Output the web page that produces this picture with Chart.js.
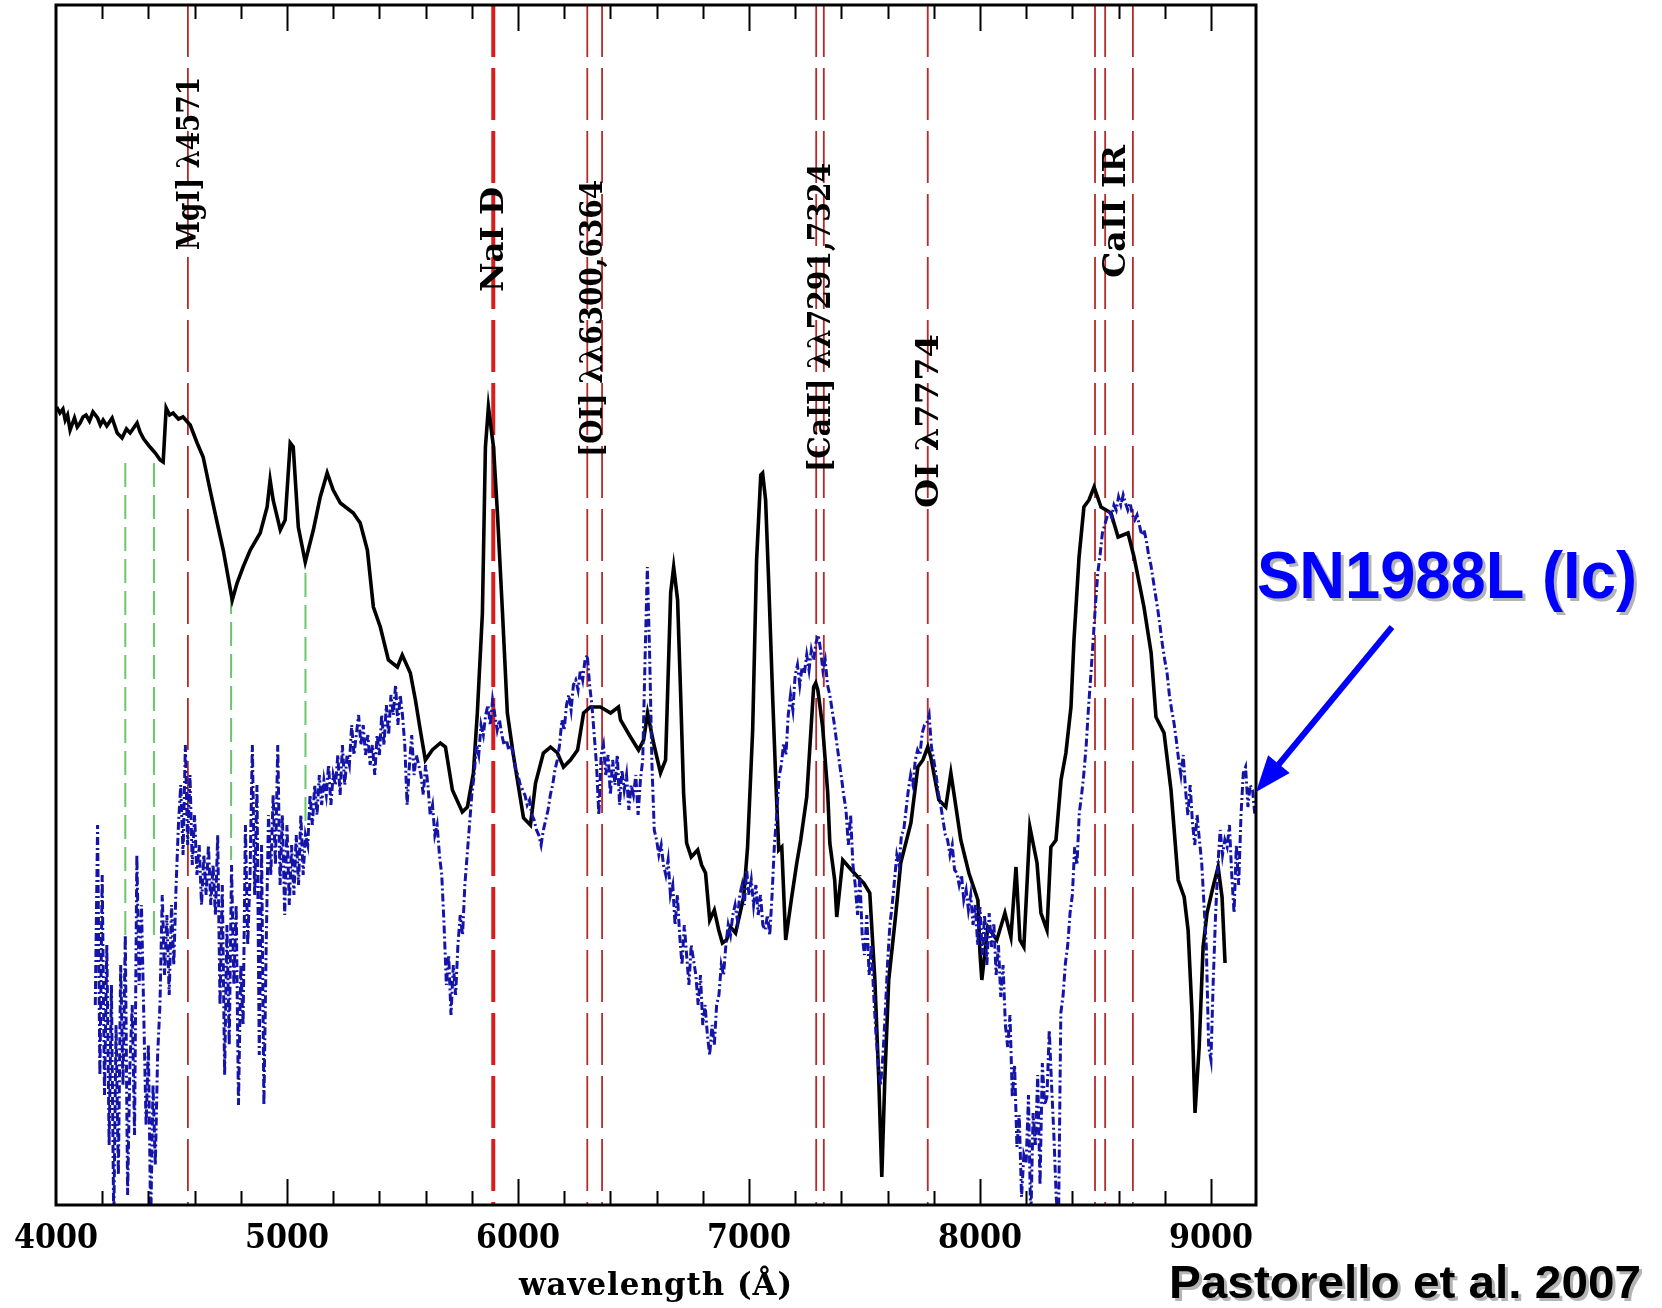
<!DOCTYPE html>
<html>
<head>
<meta charset="utf-8">
<title>SN 2006jc vs SN1988L</title>
<script src="https://cdn.jsdelivr.net/npm/chart.js@4.4.1/dist/chart.umd.min.js"></script>
<style>
  html, body { margin: 0; padding: 0; background: #fff; }
  #wrap { width: 1662px; height: 1308px; }
</style>
</head>
<body>
<div id="wrap"><canvas id="spec" width="1662" height="1308"></canvas></div>
<script>
// late-time spectrum (black, solid)
const blackWave = [4003, 4017, 4030, 4040, 4050, 4061, 4080, 4092, 4104, 4117, 4130, 4145, 4160, 4180, 4192, 4204, 4220, 4243, 4265, 4286,
  4305, 4321, 4351, 4364, 4380, 4407, 4430, 4451, 4464, 4477, 4492, 4507, 4530, 4550, 4581, 4611, 4637, 4667, 4698, 4724,
  4763, 4784, 4810, 4841, 4884, 4914, 4927, 4940, 4971, 4992, 5014, 5027, 5049, 5079, 5114, 5144, 5174, 5200, 5231, 5287,
  5317, 5348, 5374, 5404, 5439, 5478, 5499, 5534, 5556, 5577, 5599, 5629, 5664, 5686, 5716, 5759, 5781, 5807, 5824, 5846,
  5859, 5872, 5894, 5911, 5933, 5954, 5980, 6024, 6054, 6076, 6110, 6141, 6171, 6197, 6227, 6258, 6284, 6314, 6357, 6401,
  6435, 6444, 6487, 6522, 6544, 6561, 6587, 6617, 6639, 6661, 6674, 6691, 6704, 6717, 6730, 6750, 6778, 6795, 6812, 6830,
  6850, 6869, 6885, 6903, 6920, 6942, 6977, 6994, 7016, 7033, 7051, 7059, 7072, 7085, 7103, 7116, 7129, 7142, 7159, 7185,
  7207, 7224, 7250, 7280, 7289, 7298, 7319, 7341, 7350, 7371, 7380, 7406, 7432, 7471, 7497, 7523, 7545, 7562, 7575, 7588,
  7605, 7636, 7657, 7701, 7731, 7753, 7774, 7787, 7822, 7852, 7874, 7896, 7917, 7952, 7991, 8000, 8008, 8034, 8073, 8108,
  8134, 8156, 8173, 8190, 8216, 8247, 8264, 8290, 8307, 8329, 8351, 8372, 8394, 8407, 8429, 8450, 8472, 8494, 8524, 8567,
  8598, 8641, 8667, 8710, 8741, 8762, 8797, 8827, 8858, 8884, 8901, 8918, 8931, 8949, 8966, 8983, 9009, 9031, 9048, 9061];
const blackFlux = [7.98, 7.92, 7.96, 7.85, 7.90, 7.75, 7.87, 7.78, 7.82, 7.88, 7.90, 7.84, 7.93, 7.87, 7.80, 7.85, 7.79, 7.87, 7.72, 7.67,
  7.76, 7.72, 7.82, 7.73, 7.66, 7.58, 7.52, 7.45, 7.43, 7.97, 7.90, 7.92, 7.86, 7.88, 7.80, 7.62, 7.48, 7.15, 6.82, 6.55,
  6.05, 6.22, 6.38, 6.55, 6.72, 6.98, 7.25, 7.05, 6.75, 6.85, 7.62, 7.58, 6.78, 6.43, 6.75, 7.08, 7.32, 7.15, 7.02, 6.92,
  6.82, 6.55, 5.98, 5.78, 5.45, 5.38, 5.50, 5.32, 5.05, 4.75, 4.45, 4.55, 4.62, 4.58, 4.15, 3.93, 3.98, 4.32, 4.92, 5.92,
  7.58, 7.98, 7.58, 6.92, 5.92, 4.92, 4.50, 3.87, 3.80, 4.22, 4.52, 4.58, 4.52, 4.38, 4.45, 4.55, 4.92, 4.98, 4.98, 4.92,
  4.98, 4.85, 4.68, 4.55, 4.65, 4.92, 4.62, 4.32, 4.45, 6.12, 6.38, 6.05, 5.12, 4.12, 3.62, 3.48, 3.55, 3.40, 3.32, 2.85,
  2.95, 2.75, 2.62, 2.65, 2.78, 2.72, 3.08, 3.58, 4.75, 6.45, 7.30, 7.32, 7.05, 6.25, 5.05, 4.25, 3.55, 3.58, 2.65, 3.08,
  3.42, 3.65, 4.08, 5.18, 5.22, 5.15, 4.78, 4.12, 3.62, 3.25, 2.88, 3.45, 3.38, 3.28, 3.22, 3.12, 2.25, 1.25, 0.28, 1.25,
  2.25, 2.92, 3.42, 3.82, 4.38, 4.45, 4.58, 4.48, 4.05, 3.98, 4.32, 3.98, 3.65, 3.32, 3.05, 2.52, 2.25, 2.78, 2.65, 2.92,
  2.68, 3.38, 2.65, 2.58, 3.78, 3.42, 2.92, 2.75, 3.58, 3.65, 4.25, 4.52, 4.98, 5.65, 6.48, 6.98, 7.05, 7.18, 6.98, 6.92,
  6.68, 6.72, 6.48, 5.98, 5.52, 4.88, 4.72, 4.15, 3.25, 3.08, 2.75, 1.92, 0.92, 1.58, 2.58, 2.92, 3.18, 3.38, 3.08, 2.42];

// SN1988L comparison spectrum (blue, dash-dot), sampled every 10 A from 4170 A
const blueStart = 4170;
const blueStep = 10;
const blueFlux = [
  2.0, 3.8, 1.3, 3.3, 1.1, 2.6, 0.6, 2.2, -0.2, 1.8,
  0.3, 2.4, 1.2, 2.7, 0.1, 1.4, 2.0, 0.7, 3.5, 2.2,
  3.0, 1.9, 0.8, 1.6, -0.2, 1.2, 0.4, 1.5, 2.0, 3.1,
  2.3, 2.9, 2.1, 3.0, 2.4, 3.2, 3.8, 4.2, 3.5, 4.6,
  3.6, 4.3, 3.4, 3.9, 3.3, 3.6, 3.0, 3.5, 3.1, 3.6,
  3.0, 3.4, 2.9, 3.7, 2.0, 3.2, 1.3, 2.8, 1.6, 3.4,
  2.2, 3.0, 1.0, 2.4, 1.8, 3.8, 2.6, 3.3, 4.6, 3.1,
  4.2, 1.5, 3.6, 1.0, 2.6, 3.9, 3.3, 4.1, 3.4, 4.6,
  3.2, 3.9, 2.9, 3.8, 3.0, 3.6, 3.1, 3.7, 3.2, 3.9,
  3.3, 3.7, 3.6, 4.1, 3.8, 4.2, 3.9, 4.3, 4.0, 4.25,
  4.1, 4.4, 4.0, 4.3, 4.2, 4.5, 4.1, 4.6, 4.2, 4.5,
  4.4, 4.8, 4.5, 4.7, 4.9, 4.6, 4.8, 4.5, 4.7, 4.4,
  4.6, 4.3, 4.7, 4.5, 4.9, 4.6, 5.0, 4.7, 5.1, 4.9,
  5.2, 4.8, 5.1, 4.9, 4.6, 4.0, 4.4, 4.7, 4.3, 4.5,
  4.4, 4.3, 4.1, 4.4, 4.2, 3.9, 4.0, 3.7, 3.8, 3.5,
  3.3, 2.8, 2.2, 2.5, 1.9, 2.4, 2.1, 2.6, 2.9, 2.7,
  3.2, 3.5, 3.8, 4.1, 4.3, 4.6, 4.5, 4.8, 4.7, 4.9,
  5.0, 4.8, 5.05, 4.9, 4.75, 4.85, 4.7, 4.6, 4.65, 4.55,
  4.6, 4.5, 4.35, 4.3, 4.2, 4.15, 4.1, 4.0, 4.05, 3.9,
  3.85, 3.75, 3.7, 3.6, 3.75, 3.85, 3.95, 4.1, 4.2, 4.35,
  4.45, 4.6, 4.85, 4.75, 5.0, 5.1, 4.95, 5.2, 5.25, 5.15,
  5.35, 5.25, 5.45, 5.5, 5.2, 5.0, 4.7, 4.4, 3.9, 4.5,
  4.6, 4.3, 4.5, 4.1, 4.45, 4.2, 4.5, 4.0, 4.35, 4.15,
  4.3, 3.95, 4.2, 4.1, 4.3, 3.9, 4.25, 4.45, 5.45, 6.38,
  5.5, 4.4, 3.75, 3.65, 3.5, 3.6, 3.4, 3.3, 3.45, 3.1,
  3.2, 2.8, 3.1, 2.7, 2.4, 2.8, 2.5, 2.2, 2.6, 2.45,
  2.3, 2.0, 2.3, 1.8, 2.0, 1.7, 1.5, 1.8, 1.6, 2.0,
  2.1, 2.4, 2.3, 2.6, 2.8, 2.7, 2.9, 3.0, 2.85, 3.1,
  3.2, 3.0, 3.35, 3.1, 3.25, 3.0, 3.2, 2.9, 3.1, 2.8,
  2.75, 2.9, 2.7, 3.1, 3.6, 3.9, 4.28, 4.4, 4.62, 4.5,
  4.9, 5.1, 4.95, 5.3, 5.4, 5.2, 5.38, 5.32, 5.5, 5.35,
  5.55, 5.45, 5.62, 5.7, 5.55, 5.35, 5.45, 5.2, 5.1, 4.95,
  4.8, 4.62, 4.45, 4.28, 4.1, 3.95, 3.6, 3.9, 3.4, 3.2,
  2.9, 3.3, 2.7, 2.5, 2.9, 2.3, 2.6, 2.1, 1.7, 1.4,
  1.2, 1.5, 1.92, 2.42, 2.8, 3.0, 3.25, 3.5, 3.4, 3.7,
  3.75, 3.95, 4.15, 4.3, 4.2, 4.45, 4.55, 4.5, 4.72, 4.8,
  4.82, 4.9, 4.58, 4.45, 4.3, 4.12, 4.0, 3.85, 3.7, 3.65,
  3.5, 3.6, 3.35, 3.32, 3.2, 3.3, 3.05, 3.15, 2.95, 3.1,
  2.8, 3.0, 2.6, 2.98, 2.5, 2.9, 2.4, 2.92, 2.58, 2.82,
  2.3, 2.6, 2.08, 2.4, 1.8, 1.58, 1.9, 1.08, 1.4, 0.58,
  0.9, 0.08, 0.5, 0.42, 1.1, -0.2, 0.92, 0.6, 1.3, 0.2,
  1.42, 1.0, 1.08, 1.75, 1.2, 0.7, 0.08, -0.2, 1.92, 2.1,
  2.42, 2.6, 2.92, 3.1, 3.58, 3.4, 3.92, 4.1, 4.32, 4.6,
  4.98, 5.3, 5.65, 6.0, 6.32, 6.5, 6.72, 6.8, 6.88, 6.95,
  6.88, 7.0, 6.95, 7.08, 7.0, 7.1, 7.02, 6.95, 7.02, 6.9,
  6.85, 6.9, 6.8, 6.7, 6.75, 6.65, 6.5, 6.4, 6.25, 6.1,
  5.95, 5.78, 5.6, 5.45, 5.32, 5.1, 4.95, 4.82, 4.65, 4.45,
  4.3, 4.5, 4.15, 3.9, 4.2, 3.82, 3.6, 3.9, 3.65, 3.42,
  3.0, 2.58, 1.58, 1.45, 2.25, 2.9, 3.4, 3.75, 3.5, 3.65,
  3.58, 3.8, 3.3, 2.92, 3.6, 3.2, 3.9, 4.32, 4.38, 3.98,
  4.2, 4.15, 3.9];

// line identifications (red dashed)
const naDWaves = [5890, 5896];
const lineWaves = [4571, 6300, 6364, 7291, 7324, 7774, 8498, 8542, 8662];
const lineLabels = ['MgI] λ4571', 'NaI D', '[OI] λλ6300,6364', '[CaII] λλ7291,7324', 'OI λ7774', 'CaII IR'];
const labelWaves = [4571, 5893, 6364, 7324, 7774, 8542];

// absorption markers (green dashed)
const greenWaves = [4300, 4424, 4758, 5080];
const greenTop = [7.42, 7.42, 6.15, 6.32];
const greenBottom = [2.68, 2.62, 3.45, 3.80];

const xTicks = [4000, 5000, 6000, 7000, 8000, 9000];
const xMin = 4000, xMax = 9195, yMin = 0, yMax = 12;

// label placement
const labelDx = [11, 10, 0, 6, 10, 20];
const labelStart = [9.55, 9.13, 7.48, 7.33, 6.97, 9.27];
const labelLen = [173, 105, 277, 309, 174, 133];

const serif = '"DejaVu Serif", "Liberation Serif", serif';

const blackPts = blackWave.map((w, i) => ({ x: w, y: blackFlux[i] }));
const bluePts = blueFlux.map((f, i) => ({ x: blueStart + i * blueStep, y: f }));

const datasets = [];
datasets.push({ data: bluePts, borderColor: '#1414a8', borderWidth: 3, borderDash: [8, 3, 2, 3], clip: 0 });
datasets.push({ data: blackPts, borderColor: '#000', borderWidth: 3.6, clip: 0 });
lineWaves.forEach(w => {
  datasets.push({ data: [{ x: w, y: yMax }, { x: w, y: yMin }], borderColor: '#b52a2a', borderWidth: 1.8, borderDash: [52, 11] });
});
naDWaves.forEach(w => {
  datasets.push({ data: [{ x: w, y: yMax }, { x: w, y: yMin }], borderColor: '#dc1c1c', borderWidth: 2.6, borderDash: [52, 11] });
});
greenWaves.forEach((w, i) => {
  datasets.push({ data: [{ x: w, y: greenTop[i] }, { x: w, y: greenBottom[i] }], borderColor: '#6cc66c', borderWidth: 2, borderDash: [24, 8] });
});

function fitText(ctx, txt, x, y, width) {
  const w = ctx.measureText(txt).width;
  ctx.save();
  ctx.translate(x, y);
  ctx.scale(width / w, 1);
  ctx.fillText(txt, 0, 0);
  ctx.restore();
}

const frame = {
  id: 'frame',
  afterDatasetsDraw(chart) {
    const { ctx, chartArea: a, scales: { x, y } } = chart;
    ctx.save();

    // rotated line ids
    ctx.fillStyle = '#000';
    ctx.font = 'bold 32px ' + serif;
    ctx.textBaseline = 'alphabetic';
    ctx.textAlign = 'left';
    lineLabels.forEach((txt, i) => {
      const px = x.getPixelForValue(labelWaves[i]) + labelDx[i];
      const py = y.getPixelForValue(labelStart[i]);
      ctx.save();
      ctx.translate(px, py);
      ctx.rotate(-Math.PI / 2);
      fitText(ctx, txt, 0, 0, labelLen[i]);
      ctx.restore();
    });

    // box
    ctx.strokeStyle = '#000';
    ctx.lineWidth = 3;
    ctx.strokeRect(a.left, a.top, a.right - a.left, a.bottom - a.top);

    // inward ticks, bottom and top
    ctx.lineWidth = 2;
    ctx.beginPath();
    for (let v = xMin + 200; v < xMax; v += 200) {
      const px = Math.round(x.getPixelForValue(v)) + 0.5;
      const len = v % 1000 === 0 ? 26 : 14;
      ctx.moveTo(px, a.bottom);
      ctx.lineTo(px, a.bottom - len);
      ctx.moveTo(px, a.top);
      ctx.lineTo(px, a.top + len);
    }
    ctx.stroke();

    // tick labels
    ctx.font = 'bold 34px ' + serif;
    xTicks.forEach(v => {
      const px = x.getPixelForValue(v);
      fitText(ctx, String(v), px - 42, a.bottom + 43, 84);
    });

    // axis title
    ctx.font = 'bold 32px ' + serif;
    ctx.letterSpacing = '1px';
    fitText(ctx, 'wavelength (Å)', (a.left + a.right) / 2 - 137, a.bottom + 90, 274);
    ctx.letterSpacing = '0px';

    // object name with shadow and arrow
    ctx.font = 'bold 66px "Liberation Sans", Arial, sans-serif';
    ctx.fillStyle = '#b4b4b4';
    fitText(ctx, 'SN1988L (Ic)', 1260, 601, 380);
    ctx.fillStyle = '#0000ff';
    fitText(ctx, 'SN1988L (Ic)', 1257, 598, 380);

    const tipX = 1256, tipY = 792, tailX = 1392, tailY = 627;
    const len = Math.hypot(tailX - tipX, tailY - tipY);
    const ux = (tailX - tipX) / len, uy = (tailY - tipY) / len;
    const head = 36, half = 14;
    ctx.strokeStyle = '#0000ff';
    ctx.lineWidth = 6;
    ctx.beginPath();
    ctx.moveTo(tailX, tailY);
    ctx.lineTo(tipX + ux * head * 0.8, tipY + uy * head * 0.8);
    ctx.stroke();
    ctx.beginPath();
    ctx.moveTo(tipX, tipY);
    ctx.lineTo(tipX + ux * head - uy * half, tipY + uy * head + ux * half);
    ctx.lineTo(tipX + ux * head + uy * half, tipY + uy * head - ux * half);
    ctx.closePath();
    ctx.fillStyle = '#0000ff';
    ctx.fill();

    // reference
    ctx.font = 'bold 47px "Liberation Sans", Arial, sans-serif';
    ctx.fillStyle = '#b4b4b4';
    fitText(ctx, 'Pastorello et al. 2007', 1172, 1301, 472);
    ctx.fillStyle = '#000';
    fitText(ctx, 'Pastorello et al. 2007', 1169, 1298, 472);

    ctx.restore();
  }
};

new Chart(document.getElementById('spec'), {
  type: 'scatter',
  data: { datasets },
  options: {
    responsive: false,
    animation: false,
    events: [],
    showLine: true,
    elements: { point: { radius: 0 }, line: { tension: 0 } },
    layout: { autoPadding: false, padding: { left: 56, top: 5, right: 406, bottom: 103 } },
    scales: {
      x: { type: 'linear', min: xMin, max: xMax, display: false },
      y: { type: 'linear', min: yMin, max: yMax, display: false }
    },
    plugins: { legend: { display: false }, tooltip: { enabled: false } }
  },
  plugins: [frame]
});
</script>
</body>
</html>
